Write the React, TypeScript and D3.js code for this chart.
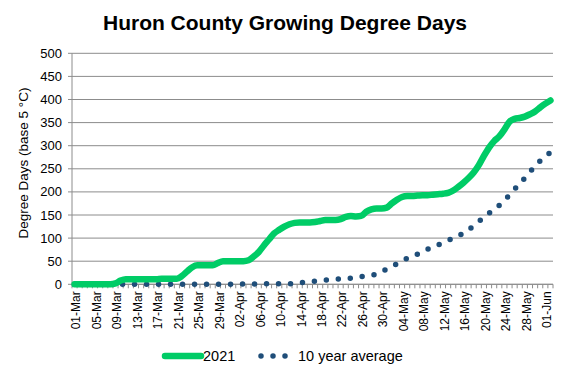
import React from "react";
import * as d3 from "d3";

const title = "Huron County Growing Degree Days";
const yAxisLabel = "Degree Days (base 5 °C)";
const seriesNames = ["2021", "10 year average"];
const yTicks = [0, 50, 100, 150, 200, 250, 300, 350, 400, 450, 500];

// one category per day, 01-Mar .. 02-Jun
const dates = d3.timeDay.range(new Date(2021, 2, 1), new Date(2021, 5, 3));
const fmt = d3.timeFormat("%d-%b");
const categories = dates.map((d) => fmt(d));

const gdd2021 = [
  0, 0, 0, 0, 0, 0, 0, 0, 2, 8,
  11, 11, 11, 11, 11, 11, 11, 12, 12, 12,
  12, 18, 28, 37, 41, 41, 41, 41, 46, 50,
  50, 50, 50, 50, 52, 60, 70, 84, 97, 110,
  118, 125, 130, 133, 134, 134, 134, 135, 137, 139,
  139, 139, 141, 146, 148, 147, 148, 157, 162, 164,
  164, 166, 175, 183, 189, 191, 191, 192, 193, 193,
  194, 195, 196, 198, 203, 211, 220, 230, 242, 258,
  278, 296, 310, 320, 335, 352, 358, 360, 363, 368,
  374, 383, 391, 398,
];

const gddAvg = [
  0, 0, 0, 0, 0, 0, 0, 0, 0, 0,
  0, 0, 0, 0, 0, 0, 0, 0, 0, 0,
  0, 0, 0, 0, 0, 0, 0, 0, 0, 0,
  0, 0.5, 0.5, 0.5, 0.5, 0.5, 0.5, 1, 1, 1,
  1, 1, 1, 2.5, 3.5, 4.5, 5.5, 7, 8, 9,
  10, 11, 11.5, 12.5, 13, 15, 16.5, 18, 19.5, 22,
  27, 33, 39, 44, 50, 56, 60, 65, 70, 76,
  80, 85, 90, 95, 100, 105, 111, 118, 127, 136,
  145, 154, 162, 171, 182, 193, 206, 218, 230, 243,
  256, 267, 277, 285,
];

const W = 567;
const H = 378;
const left = 72;
const right = 553;
const top = 53.3;
const bottom = 284.3;
const font = "'Liberation Sans', Arial, sans-serif";

export default function App() {
  const x = d3
    .scaleBand<number>()
    .domain(categories.map((_, i) => i))
    .range([left, right])
    .padding(0);
  const y = d3.scaleLinear().domain([0, 500]).range([bottom, top]);
  const cx = (i: number) => (x(i) as number) + x.bandwidth() / 2;

  const line = d3
    .line<number>()
    .x((_, i) => cx(i))
    .y((d) => y(d))
    .curve(d3.curveMonotoneX);

  const green = "#00CC66";
  const navy = "#1F4E79";
  const grid = "#8C8C8C";

  return (
    <svg
      width={W}
      height={H}
      style={{ position: "absolute", left: 0, top: 0, background: "#fff" }}
    >
      <text
        x={285}
        y={30}
        textAnchor="middle"
        fontFamily={font}
        fontSize={21}
        fontWeight="bold"
        fill="#000"
      >
        {title}
      </text>

      {yTicks.map((t) => (
        <g key={t}>
          <line x1={left - 4} x2={right} y1={y(t)} y2={y(t)} stroke={grid} strokeWidth={1} />
          <text
            x={62}
            y={y(t)}
            dy="0.35em"
            textAnchor="end"
            fontFamily={font}
            fontSize={13}
            fill="#000"
          >
            {t}
          </text>
        </g>
      ))}
      <line x1={left} x2={left} y1={top} y2={bottom} stroke={grid} strokeWidth={1} />
      <line x1={left} x2={right} y1={bottom} y2={bottom} stroke={grid} strokeWidth={1} />
      {categories.map((_, i) => (
        <line
          key={"t" + i}
          x1={x(i) as number}
          x2={x(i) as number}
          y1={bottom}
          y2={bottom + 4}
          stroke={grid}
          strokeWidth={1}
        />
      ))}
      <line x1={right} x2={right} y1={bottom} y2={bottom + 4} stroke={grid} strokeWidth={1} />

      {categories.map((c, i) =>
        i % 4 === 0 ? (
          <text
            key={"l" + i}
            transform={`translate(${cx(i) + 5.8},${bottom + 7}) rotate(-90)`}
            textAnchor="end"
            fontFamily={font}
            fontSize={12}
            fill="#000"
          >
            {c}
          </text>
        ) : null
      )}

      <text
        transform={`translate(28,${163}) rotate(-90)`}
        textAnchor="middle"
        fontFamily={font}
        fontSize={13.5}
        fill="#000"
      >
        {yAxisLabel}
      </text>

      <path
        d={line(gddAvg) || ""}
        fill="none"
        stroke={navy}
        strokeWidth={5.5}
        strokeLinecap="round"
        strokeDasharray="0 12"
      />
      <path
        d={line(gdd2021) || ""}
        fill="none"
        stroke={green}
        strokeWidth={6.5}
        strokeLinecap="round"
        strokeLinejoin="round"
      />

      {/* legend */}
      <line x1={165} x2={201} y1={356} y2={356} stroke={green} strokeWidth={6.5} strokeLinecap="round" />
      <text x={203} y={361} fontFamily={font} fontSize={14.5} fill="#000">
        {seriesNames[0]}
      </text>
      <line
        x1={261}
        x2={285.5}
        y1={356}
        y2={356}
        stroke={navy}
        strokeWidth={5.5}
        strokeLinecap="round"
        strokeDasharray="0 12"
      />
      <text x={298} y={361} fontFamily={font} fontSize={14.5} fill="#000">
        {seriesNames[1]}
      </text>
    </svg>
  );
}
